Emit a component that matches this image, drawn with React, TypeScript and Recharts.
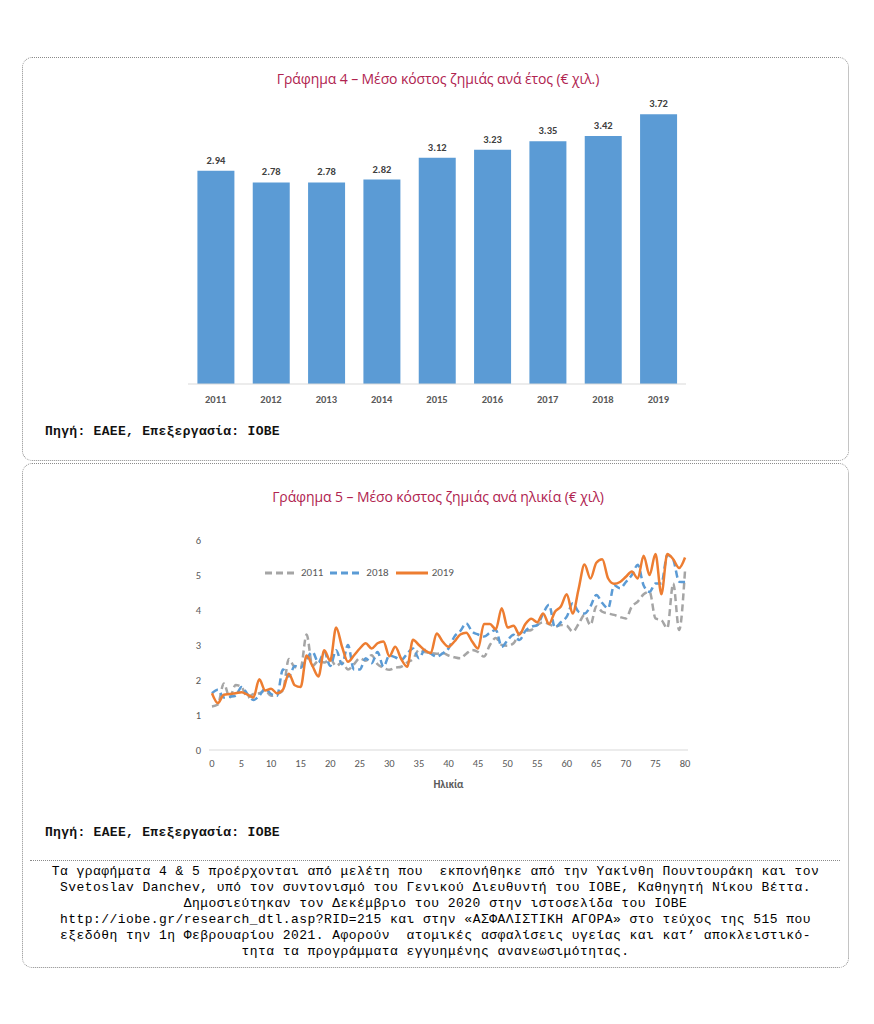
import {
  Bar,
  BarChart,
  LabelList,
  Line,
  LineChart,
  XAxis,
  YAxis,
} from "recharts";

const years = ["2011", "2012", "2013", "2014", "2015", "2016", "2017", "2018", "2019"];
const costByYear = [2.94, 2.78, 2.78, 2.82, 3.12, 3.23, 3.35, 3.42, 3.72];

const ages = Array.from({ length: 81 }, (_, i) => i);
const ageTicks = [0, 5, 10, 15, 20, 25, 30, 35, 40, 45, 50, 55, 60, 65, 70, 75, 80];
const costTicks = [0, 1, 2, 3, 4, 5, 6];

const cost2011 = [
  1.24, 1.3, 1.9, 1.5, 1.86, 1.8, 1.5, 1.6, 1.62, 1.7, 1.55, 1.6, 1.7, 2.6, 2.37, 2.35, 3.3, 2.4, 2.55, 2.5,
  2.6, 2.4, 2.5, 2.3, 2.45, 2.62, 2.55, 2.71, 2.45, 2.35, 2.29, 2.35, 2.38, 2.5, 2.6, 2.86, 2.8, 2.77, 2.75, 2.77,
  2.7, 2.65, 2.62, 2.75, 2.86, 2.8, 2.67, 3.0, 3.2, 3.0, 2.98, 3.05, 3.33, 3.4, 3.43, 3.57, 3.65, 3.6, 3.52, 3.57,
  3.55, 3.38, 3.6, 3.86, 3.57, 4.1, 3.95, 3.9, 3.86, 3.8, 3.76, 4.1, 4.24, 4.45, 4.52, 3.76, 3.71, 3.48, 4.76, 3.43,
  5.14,
];
const cost2018 = [
  1.62, 1.72, 1.5, 1.52, 1.55, 1.8, 1.6, 1.43, 1.55, 1.75, 1.6, 1.55, 2.3, 2.1, 2.4, 2.35, 2.6, 2.8, 2.5, 2.8,
  2.4, 2.85, 2.45, 3.0, 2.3, 2.3, 2.62, 2.48, 2.8, 2.38, 2.7, 2.65, 2.57, 2.75, 2.9, 2.62, 2.86, 2.75, 2.67, 2.76,
  2.9, 3.24, 3.4, 3.62, 3.38, 3.3, 3.24, 3.35, 3.43, 2.95, 3.14, 3.29, 3.14, 3.4, 3.52, 3.57, 3.9, 4.15, 3.5, 3.65,
  3.81, 4.19, 3.95, 3.9, 4.1, 4.43, 4.2, 4.05, 4.71, 4.62, 4.8, 5.0, 5.29, 4.7, 4.52, 4.76, 4.76, 5.57, 5.43, 4.81,
  4.8,
];
const cost2019 = [
  1.62, 1.34, 1.58, 1.6, 1.62, 1.65, 1.58, 1.5, 2.02, 1.7, 1.75, 1.62, 1.72, 2.18, 1.85, 1.8, 2.7, 2.4, 2.1, 2.85,
  2.55, 3.5, 2.95, 2.52, 2.7, 2.9, 3.05, 2.9, 3.05, 3.1, 2.68, 2.95, 2.6, 2.38, 3.15, 3.0, 2.85, 2.77, 3.33, 3.1,
  2.95, 3.1, 3.3, 3.35, 3.1, 2.9, 3.6, 3.6, 3.45, 4.05, 3.5, 3.55, 3.3, 3.6, 3.75, 3.65, 3.9, 3.6, 3.95, 4.1,
  4.45, 3.9, 4.6, 5.3, 4.9, 5.35, 5.45, 4.9, 4.75, 4.8, 4.95, 5.1, 4.9, 5.55, 5.0, 5.6, 4.45, 5.6, 5.45, 5.2,
  5.5,
];

const barData = years.map((year, i) => ({ year, cost: costByYear[i] }));
const lineData = ages.map((age, i) => ({
  age,
  y2011: cost2011[i],
  y2018: cost2018[i],
  y2019: cost2019[i],
}));

const legendItems = [
  { name: "2011", color: "#a5a5a5", dash: "7 4" },
  { name: "2018", color: "#5b9bd5", dash: "7 4" },
  { name: "2019", color: "#ed7d31", dash: "" },
];

const titleColor = "#b0234f";
const titleFont = '"Liberation Sans Narrow", "Open Sans", "Noto Sans", sans-serif';
const monoFont = '"Liberation Mono", "DejaVu Sans Mono", monospace';
const chartFont = 'Calibri, Carlito, "Open Sans", "Noto Sans", sans-serif';

const card: React.CSSProperties = {
  position: "absolute",
  left: 22,
  width: 827,
  border: "1px dotted #8a8a8a",
  borderRadius: 10,
  boxSizing: "border-box",
};

function LineLegend() {
  return (
    <div
      style={{
        position: "absolute",
        left: 265,
        top: 566,
        display: "flex",
        alignItems: "center",
        gap: 7,
        fontFamily: chartFont,
        fontSize: 11,
        color: "#595959",
      }}
    >
      {legendItems.map((item) => (
        <div key={item.name} style={{ display: "flex", alignItems: "center", gap: 4 }}>
          <svg width={32} height={8}>
            <line
              x1={0}
              y1={4}
              x2={32}
              y2={4}
              stroke={item.color}
              strokeWidth={3}
              strokeDasharray={item.dash || undefined}
            />
          </svg>
          <span>{item.name}</span>
        </div>
      ))}
    </div>
  );
}

export default function App() {
  return (
    <div style={{ position: "absolute", left: 0, top: 0, width: 874, height: 1024, background: "#fff" }}>
      <div style={{ ...card, top: 57, height: 404 }} />
      <div style={{ ...card, top: 463, height: 505 }} />

      <div
        style={{
          position: "absolute",
          left: 0,
          width: 876,
          top: 69,
          textAlign: "center",
          fontFamily: titleFont,
          fontSize: 14,
          letterSpacing: -0.1,
          color: titleColor,
        }}
      >
        Γράφημα 4 – Μέσο κόστος ζημιάς ανά έτος (€ χιλ.)
      </div>

      <div style={{ position: "absolute", left: 140, top: 80 }}>
        <BarChart
          width={560}
          height={340}
          data={barData}
          margin={{ top: 14, right: 14, bottom: 16, left: 48 }}
          barCategoryGap="17%"
        >
          <XAxis
            dataKey="year"
            height={20}
            tickLine={false}
            axisLine={{ stroke: "#d9d9d9" }}
            dy={4}
            tick={{ fill: "#595959", fontSize: 10.5, fontWeight: 700, fontFamily: chartFont }}
          />
          <YAxis hide domain={[0, 4]} />
          <Bar dataKey="cost" fill="#5b9bd5" isAnimationActive={false}>
            <LabelList
              dataKey="cost"
              position="top"
              offset={7}
              formatter={(v: number) => v.toFixed(2)}
              style={{ fill: "#404040", fontSize: 10.5, fontWeight: 700, fontFamily: chartFont }}
            />
          </Bar>
        </BarChart>
      </div>

      <div
        style={{
          position: "absolute",
          left: 45,
          top: 424,
          fontFamily: monoFont,
          fontSize: 13,
          fontWeight: 700,
          letterSpacing: 0.3,
          color: "#111",
        }}
      >
        Πηγή: ΕΑΕΕ, Επεξεργασία: ΙΟΒΕ
      </div>

      <div
        style={{
          position: "absolute",
          left: 0,
          width: 876,
          top: 487,
          textAlign: "center",
          fontFamily: titleFont,
          fontSize: 14,
          letterSpacing: -0.1,
          color: titleColor,
        }}
      >
        Γράφημα 5 – Μέσο κόστος ζημιάς ανά ηλικία (€ χιλ)
      </div>

      <div style={{ position: "absolute", left: 150, top: 525 }}>
        <LineChart
          width={560}
          height={280}
          data={lineData}
          margin={{ top: 15, right: 22, bottom: 12, left: 29 }}
        >
          <XAxis
            dataKey="age"
            type="number"
            domain={[-0.5, 80.5]}
            ticks={ageTicks}
            height={43}
            tickLine={false}
            axisLine={{ stroke: "#d9d9d9" }}
            dy={2}
            tick={{ fill: "#595959", fontSize: 10.5, fontFamily: chartFont }}
            label={{
              value: "Ηλικία",
              position: "insideBottom",
              offset: 5,
              style: { fill: "#595959", fontSize: 11, fontWeight: 700, fontFamily: chartFont },
            }}
          />
          <YAxis
            width={30}
            domain={[0, 6]}
            ticks={costTicks}
            tickLine={false}
            axisLine={false}
            tick={{ fill: "#595959", fontSize: 10.5, fontFamily: chartFont }}
          />
          <Line
            type="monotone"
            dataKey="y2011"
            stroke="#a5a5a5"
            strokeWidth={2.5}
            strokeDasharray="7 4"
            dot={false}
            isAnimationActive={false}
          />
          <Line
            type="monotone"
            dataKey="y2018"
            stroke="#5b9bd5"
            strokeWidth={2.5}
            strokeDasharray="7 4"
            dot={false}
            isAnimationActive={false}
          />
          <Line
            type="monotone"
            dataKey="y2019"
            stroke="#ed7d31"
            strokeWidth={2.5}
            dot={false}
            isAnimationActive={false}
          />
        </LineChart>
      </div>
      <LineLegend />

      <div
        style={{
          position: "absolute",
          left: 45,
          top: 825,
          fontFamily: monoFont,
          fontSize: 13,
          fontWeight: 700,
          letterSpacing: 0.3,
          color: "#111",
        }}
      >
        Πηγή: ΕΑΕΕ, Επεξεργασία: ΙΟΒΕ
      </div>

      <div
        style={{
          position: "absolute",
          left: 30,
          width: 810,
          top: 860,
          borderTop: "1px dotted #8a8a8a",
        }}
      />
      <div
        style={{
          position: "absolute",
          left: 22,
          width: 827,
          top: 864,
          textAlign: "center",
          fontFamily: monoFont,
          fontSize: 13,
          lineHeight: "16px",
          letterSpacing: 0.45,
          color: "#000",
        }}
      >
        <div>Τα γραφήματα 4 &amp; 5 προέρχονται από μελέτη που&nbsp; εκπονήθηκε από την Υακίνθη Πουντουράκη και τον</div>
        <div>Svetoslav Danchev, υπό τον συντονισμό του Γενικού Διευθυντή του ΙΟΒΕ, Καθηγητή Νίκου Βέττα.</div>
        <div>Δημοσιεύτηκαν τον Δεκέμβριο του 2020 στην ιστοσελίδα του ΙΟΒΕ</div>
        <div>http://iobe.gr/research_dtl.asp?RID=215 και στην «ΑΣΦΑΛΙΣΤΙΚΗ ΑΓΟΡΑ» στο τεύχος της 515 που</div>
        <div>εξεδόθη την 1η Φεβρουαρίου 2021. Αφορούν&nbsp; ατομικές ασφαλίσεις υγείας και κατ’ αποκλειστικό-</div>
        <div>τητα τα προγράμματα εγγυημένης ανανεωσιμότητας.</div>
      </div>
    </div>
  );
}
